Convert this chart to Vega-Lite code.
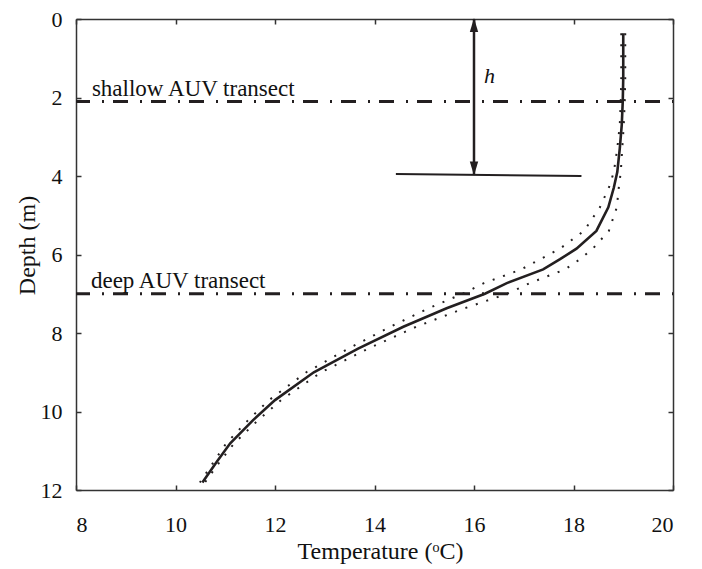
{
  "$schema": "https://vega.github.io/schema/vega-lite/v6.json",
  "width": 597,
  "height": 471,
  "autosize": "none",
  "padding": {"left": 76, "top": 19, "right": 29, "bottom": 79},
  "background": "white",
  "config": {
    "view": {"stroke": null},
    "font": "Liberation Serif",
    "axis": {
      "grid": false,
      "domainColor": "#333333",
      "domainWidth": 1.5,
      "tickColor": "#333333",
      "tickWidth": 1.5,
      "tickSize": -5,
      "labelFont": "Liberation Serif",
      "labelFontSize": 22,
      "labelColor": "#111111",
      "titleFont": "Liberation Serif",
      "titleFontSize": 24,
      "titleFontWeight": "normal",
      "titleColor": "#111111"
    }
  },
  "datasets": {
    "profile": [
      {"depth": 0.36, "mean": 19.00, "lo": 18.96, "hi": 19.04},
      {"depth": 1.0, "mean": 19.00, "lo": 18.96, "hi": 19.04},
      {"depth": 1.5, "mean": 19.00, "lo": 18.96, "hi": 19.04},
      {"depth": 2.1, "mean": 18.99, "lo": 18.95, "hi": 19.03},
      {"depth": 2.7, "mean": 18.97, "lo": 18.93, "hi": 19.01},
      {"depth": 3.3, "mean": 18.93, "lo": 18.88, "hi": 18.98},
      {"depth": 3.9, "mean": 18.88, "lo": 18.81, "hi": 18.95},
      {"depth": 4.3, "mean": 18.81, "lo": 18.71, "hi": 18.91},
      {"depth": 4.8, "mean": 18.70, "lo": 18.53, "hi": 18.87},
      {"depth": 5.4, "mean": 18.46, "lo": 18.21, "hi": 18.71},
      {"depth": 5.85, "mean": 18.06, "lo": 17.73, "hi": 18.39},
      {"depth": 6.12, "mean": 17.73, "lo": 17.33, "hi": 18.13},
      {"depth": 6.38, "mean": 17.39, "lo": 16.95, "hi": 17.83},
      {"depth": 6.73, "mean": 16.66, "lo": 16.20, "hi": 17.12},
      {"depth": 7.0, "mean": 16.22, "lo": 15.77, "hi": 16.67},
      {"depth": 7.37, "mean": 15.45, "lo": 15.09, "hi": 15.81},
      {"depth": 7.84, "mean": 14.58, "lo": 14.32, "hi": 14.84},
      {"depth": 8.4, "mean": 13.67, "lo": 13.47, "hi": 13.87},
      {"depth": 9.0, "mean": 12.78, "lo": 12.63, "hi": 12.93},
      {"depth": 9.71, "mean": 12.00, "lo": 11.88, "hi": 12.12},
      {"depth": 10.22, "mean": 11.56, "lo": 11.46, "hi": 11.66},
      {"depth": 10.81, "mean": 11.10, "lo": 11.02, "hi": 11.18},
      {"depth": 11.28, "mean": 10.83, "lo": 10.77, "hi": 10.89},
      {"depth": 11.81, "mean": 10.54, "lo": 10.49, "hi": 10.59}
    ],
    "transects": [
      {"depth": 2.1, "temp": 8.32, "labdepth": 1.97, "label": "shallow AUV transect"},
      {"depth": 7.0, "temp": 8.30, "labdepth": 6.85, "label": "deep AUV transect"}
    ],
    "arrow": [{"temp": 16.0, "d1": 0.0, "d2": 3.97}],
    "heads": [
      {"temp": 16.0, "depth": 0.15, "dir": "up"},
      {"temp": 16.0, "depth": 3.81, "dir": "down"}
    ],
    "hline": [
      {"temp": 14.43, "depth": 3.95},
      {"temp": 18.16, "depth": 4.0}
    ],
    "hlabel": [{"temp": 16.2, "depth": 1.63, "label": "h"}]
  },
  "resolve": {"axis": {"x": "independent", "y": "independent"}},
  "layer": [
    {
      "data": {"name": "profile"},
      "mark": {"type": "line", "color": "#231f20", "strokeWidth": 2.6},
      "encoding": {
        "x": {
          "field": "mean", "type": "quantitative",
          "scale": {"domain": [8, 20], "nice": false, "zero": false},
          "axis": {"orient": "bottom", "values": [8, 10, 12, 14, 16, 18, 20], "labelFont": "Liberation Serif", "labelFontSize": 22, "labelPadding": 29.5, "title": "Temperature (ᵒC)", "titlePadding": 4, "titleX": 304}
        },
        "y": {
          "field": "depth", "type": "quantitative",
          "scale": {"domain": [0, 12], "reverse": true, "nice": false, "zero": false},
          "axis": {"orient": "left", "values": [0, 2, 4, 6, 8, 10, 12], "labelFont": "Liberation Serif", "labelFontSize": 22, "labelPadding": 19, "title": "Depth (m)", "titlePadding": 1, "titleY": 226}
        },
        "order": {"field": "depth", "type": "quantitative"}
      }
    },
    {
      "data": {"name": "profile"},
      "mark": {"type": "line", "color": "#231f20", "strokeWidth": 2, "strokeDash": [2, 9]},
      "encoding": {
        "x": {"field": "lo", "type": "quantitative", "axis": {"orient": "top", "values": [8, 10, 12, 14, 16, 18, 20], "labels": false, "title": null}},
        "y": {"field": "depth", "type": "quantitative", "axis": {"orient": "right", "values": [0, 2, 4, 6, 8, 10, 12], "labels": false, "title": null}},
        "order": {"field": "depth", "type": "quantitative"}
      }
    },
    {
      "data": {"name": "profile"},
      "mark": {"type": "line", "color": "#231f20", "strokeWidth": 2, "strokeDash": [2, 9]},
      "encoding": {
        "x": {"field": "hi", "type": "quantitative", "axis": null},
        "y": {"field": "depth", "type": "quantitative", "axis": null},
        "order": {"field": "depth", "type": "quantitative"}
      }
    },
    {
      "data": {"name": "transects"},
      "mark": {"type": "rule", "color": "#231f20", "strokeWidth": 3, "strokeDash": [15, 9, 2, 12], "strokeDashOffset": 25},
      "encoding": {
        "y": {"field": "depth", "type": "quantitative", "axis": null}
      }
    },
    {
      "data": {"name": "transects"},
      "mark": {"type": "text", "align": "left", "baseline": "alphabetic", "font": "Liberation Serif", "fontSize": 23, "color": "#111111"},
      "encoding": {
        "x": {"field": "temp", "type": "quantitative", "axis": null},
        "y": {"field": "labdepth", "type": "quantitative", "axis": null},
        "text": {"field": "label"}
      }
    },
    {
      "data": {"name": "arrow"},
      "mark": {"type": "rule", "color": "#231f20", "strokeWidth": 2.5},
      "encoding": {
        "x": {"field": "temp", "type": "quantitative", "axis": null},
        "y": {"field": "d1", "type": "quantitative", "axis": null},
        "y2": {"field": "d2"}
      }
    },
    {
      "data": {"name": "heads"},
      "mark": {"type": "point", "filled": true, "opacity": 1, "color": "#231f20", "size": 196},
      "encoding": {
        "x": {"field": "temp", "type": "quantitative", "axis": null},
        "y": {"field": "depth", "type": "quantitative", "axis": null},
        "shape": {"field": "dir", "type": "nominal", "legend": null,
          "scale": {"domain": ["up", "down"], "range": ["M0,-1L-0.6,1L0.6,1Z", "M0,1L-0.6,-1L0.6,-1Z"]}}
      }
    },
    {
      "data": {"name": "hline"},
      "mark": {"type": "line", "color": "#231f20", "strokeWidth": 2},
      "encoding": {
        "x": {"field": "temp", "type": "quantitative", "axis": null},
        "y": {"field": "depth", "type": "quantitative", "axis": null}
      }
    },
    {
      "data": {"name": "hlabel"},
      "mark": {"type": "text", "align": "left", "baseline": "alphabetic", "font": "Liberation Serif", "fontSize": 22, "fontStyle": "italic", "color": "#111111"},
      "encoding": {
        "x": {"field": "temp", "type": "quantitative", "axis": null},
        "y": {"field": "depth", "type": "quantitative", "axis": null},
        "text": {"field": "label"}
      }
    }
  ]
}
